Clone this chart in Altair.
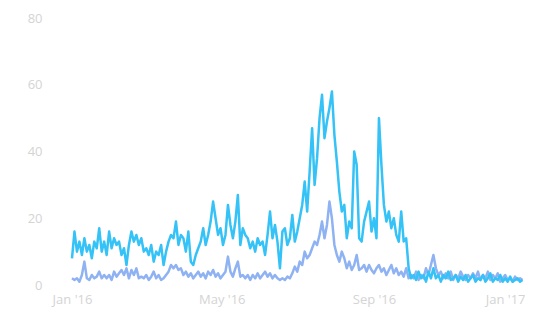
import altair as alt
import pandas as pd

start = "2016-01-01"
step_days = 2

series_a = [
    8, 16, 10, 13, 9, 14, 10, 12, 8, 13,
    11, 17, 10, 13, 9, 16, 11, 14, 12, 13,
    9, 11, 6, 12, 16, 13, 15, 12, 14, 10,
    11, 9, 12, 7, 10, 9, 12, 6, 10, 13,
    15, 14, 19, 12, 15, 14, 10, 16, 7, 6,
    9, 11, 13, 17, 12, 15, 19, 25, 20, 15,
    17, 12, 15, 24, 18, 14, 19, 27, 12, 17,
    15, 14, 11, 13, 10, 14, 12, 13, 9, 15,
    22, 14, 18, 13, 5, 16, 17, 12, 14, 21,
    13, 16, 20, 24, 31, 22, 34, 47, 30, 38,
    50, 57, 44, 49, 53, 58, 45, 37, 28, 22,
    24, 14, 19, 17, 40, 36, 14, 13, 19, 22,
    25, 16, 20, 14, 50, 36, 24, 19, 22, 17,
    20, 15, 13, 22, 13, 14, 5, 2, 3, 1.5,
    4, 2, 3, 1, 4, 2, 5, 2, 3, 1,
    3, 2, 4, 1.5, 2, 3, 1, 2.5, 1.5, 3,
    1, 2, 3, 1, 2, 1.5, 3, 1, 2, 3.5,
    1, 2, 1.5, 3, 1, 2, 1, 2.5, 1, 1.5,
    2, 1, 1.5,
]

series_b = [
    2, 1.5, 2, 1, 3, 7, 2, 1.5, 3, 2,
    2.5, 4, 2, 3, 2, 3, 1.5, 4, 2.5, 3.5,
    4.5, 3, 5, 2, 4.5, 3, 5, 2, 2.5, 2,
    3, 1.5, 2.5, 4, 2, 3, 1.5, 2, 3, 4,
    6, 5, 6, 4.5, 5, 3, 4, 2.5, 3.5, 2,
    3, 4, 2.5, 3.5, 2, 4, 3, 4.5, 2.5, 3.5,
    2, 3, 4, 8.5, 4, 2.5, 5, 7, 2.5, 3,
    2, 3, 1.5, 3, 2, 3.5, 2, 3, 4, 2.5,
    3.5, 2, 3, 2, 1.5, 2, 1.5, 2.5, 2, 3.5,
    5.5, 4, 7, 6, 10, 8, 9, 11, 13, 12,
    15, 19, 14, 18, 25, 20, 12, 9, 7, 10,
    8, 5, 7, 4.5, 6, 9, 4.5, 5, 6, 4,
    6, 4.5, 3.5, 5, 6, 4, 5, 3, 4.5, 6,
    3.5, 5, 3, 4, 2.5, 5, 2, 3, 2, 4,
    1.5, 3, 2, 5, 3, 6, 9, 5, 3, 4,
    2, 3.5, 2, 4, 1.5, 3, 2, 4, 2.5, 1.5,
    3, 2, 3.5, 2, 4, 1.5, 3, 2, 4, 1.5,
    3, 2, 3.5, 1, 2, 3, 1.5, 2, 1, 2.5,
    1.5, 2, 1.5,
]

series_names = ["B", "A"]
series_colors = ["#8fb2f2", "#35c2f6"]
y_ticks = [0, 20, 40, 60, 80]

dates_a = pd.date_range(start, periods=len(series_a), freq=f"{step_days}D")
dates_b = pd.date_range(start, periods=len(series_b), freq=f"{step_days}D")
df = pd.concat([
    pd.DataFrame({"date": dates_b.strftime("%Y-%m-%dT00:00:00"), "value": series_b, "series": "B", "ord": 0}),
    pd.DataFrame({"date": dates_a.strftime("%Y-%m-%dT00:00:00"), "value": series_a, "series": "A", "ord": 1}),
])

label_color = "#d4d4d4"

chart = alt.Chart(df).mark_line(strokeWidth=2.5, interpolate="linear", strokeJoin="round").encode(
    x=alt.X(
        "date:T",
        scale=alt.Scale(domain=[alt.DateTime(year=2016, month=1, date=1), alt.DateTime(year=2017, month=1, date=1)]),
        axis=alt.Axis(
            title=None,
            values=[
                alt.DateTime(year=2016, month=1, date=1),
                alt.DateTime(year=2016, month=5, date=1),
                alt.DateTime(year=2016, month=9, date=1),
                alt.DateTime(year=2017, month=1, date=1),
            ],
            format="%b '%y",
            domain=False,
            ticks=False,
            grid=False,
            labelFlush=False,
            labelAlign={"condition": {"test": "year(datum.value) >= 2017", "value": "right"}, "value": "center"},
            labelPadding=8,
            labelColor=label_color,
            labelFontSize=13,
            labelFont="Open Sans",
        ),
    ),
    y=alt.Y(
        "value:Q",
        scale=alt.Scale(domain=[0, 80], nice=False),
        axis=alt.Axis(
            title=None,
            values=y_ticks,
            domain=False,
            ticks=False,
            grid=False,
            labelPadding=30,
            labelColor=label_color,
            labelFontSize=13,
            labelFont="Open Sans",
        ),
    ),
    color=alt.Color("series:N", scale=alt.Scale(domain=series_names, range=series_colors), legend=None),
    order="ord:Q",
).properties(
    width=453,
    height=267,
    autosize=alt.AutoSizeParams(type="none"),
    padding={"left": 64, "top": 10, "right": 0, "bottom": 30},
).configure_view(stroke=None)

chart.save("out.html", embed_options={"renderer": "svg", "actions": False})
